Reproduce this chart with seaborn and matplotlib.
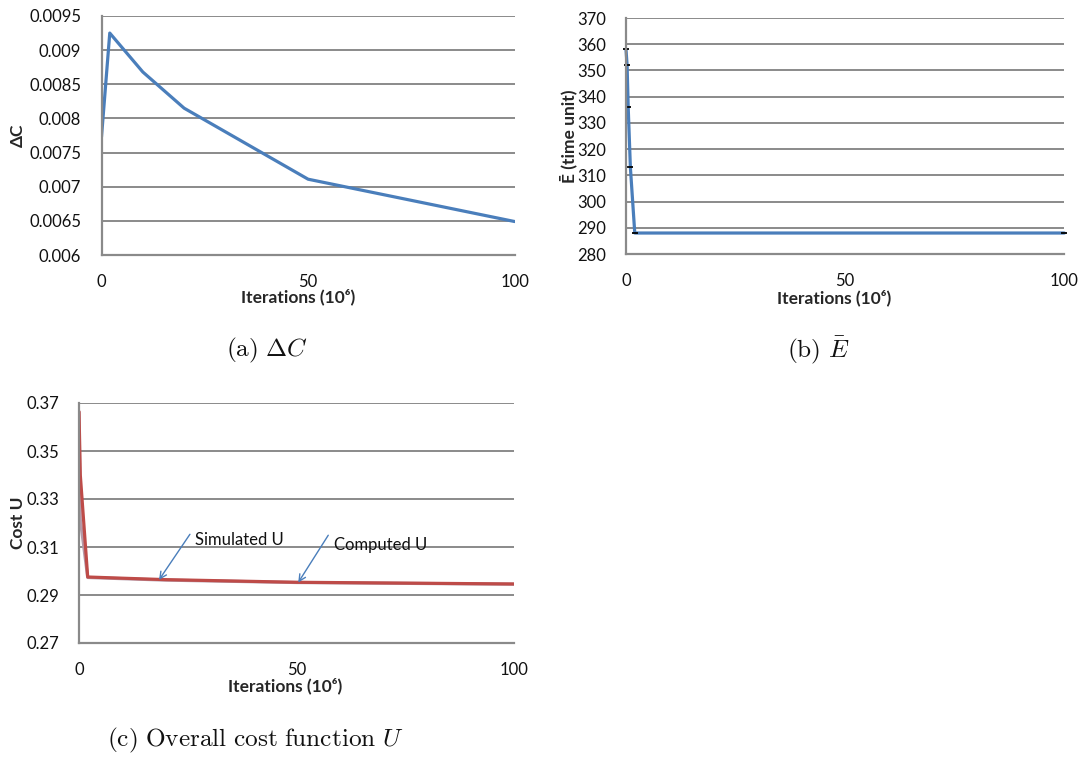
import matplotlib
matplotlib.use("Agg")
import matplotlib.pyplot as plt
import seaborn as sns
import pandas as pd

# ---- data -------------------------------------------------------------
iter_dc = [0, 2, 10, 20, 50, 100]
delta_c = [0.00773, 0.00925, 0.00868, 0.00815, 0.00711, 0.00649]

iter_e = [0, 0.25, 0.5, 1, 2, 100]
e_bar = [358, 352, 336, 313, 288, 288]

iter_u = [0, 0.3, 2, 10, 20, 50, 100]
simulated_u = [0.3662, 0.3215, 0.2973, 0.2968, 0.2962, 0.2952, 0.2945]
computed_u = [0.3664, 0.3400, 0.2975, 0.2970, 0.2964, 0.2953, 0.2946]

x_ticks = [0, 50, 100]
x_tick_labels = ["0", "50", "100"]
dc_ticks = [0.006, 0.0065, 0.007, 0.0075, 0.008, 0.0085, 0.009, 0.0095]
dc_tick_labels = ["0.006", "0.0065", "0.007", "0.0075", "0.008", "0.0085", "0.009", "0.0095"]
e_ticks = [280, 290, 300, 310, 320, 330, 340, 350, 360, 370]
u_ticks = [0.27, 0.29, 0.31, 0.33, 0.35, 0.37]
u_tick_labels = ["0.27", "0.29", "0.31", "0.33", "0.35", "0.37"]

# ---- style ------------------------------------------------------------
sns.set_style("white")
plt.rcParams["font.family"] = ["Lato", "DejaVu Sans"]

GRID = "#8a8a8a"
BLUE = "#4a7ebb"
RED = "#be4b48"
TICK_FS = 12
LABEL_FS = 12.5

fig = plt.figure(figsize=(10.84, 7.59), dpi=100)
W, H = 1084, 759


def add_axes(left, right, top, bottom):
    return fig.add_axes([left / W, 1 - bottom / H, (right - left) / W, (bottom - top) / H])


def style_axes(ax, yticks, ylabels, ylim, xlabel, ylabel, ylab_x, xlab_y):
    ax.set_xlim(0, 100)
    ax.set_ylim(*ylim)
    ax.set_xticks(x_ticks)
    ax.set_xticklabels(x_tick_labels)
    ax.set_yticks(yticks)
    ax.set_yticklabels(ylabels)
    ax.grid(axis="y", color=GRID, linewidth=1.4)
    ax.grid(axis="x", visible=False)
    ax.set_axisbelow(True)
    for s in ["top", "right"]:
        ax.spines[s].set_visible(False)
    for s in ["left", "bottom"]:
        ax.spines[s].set_color(GRID)
        ax.spines[s].set_linewidth(1.6)
    ax.tick_params(axis="x", direction="out", length=4.5, width=1.4, color=GRID,
                   pad=9.5, labelsize=TICK_FS, labelcolor="#111111")
    ax.tick_params(axis="y", direction="out", length=4.5, width=1.4, color=GRID,
                   pad=10, labelsize=TICK_FS, labelcolor="#111111")
    ax.set_xlabel(xlabel, fontsize=LABEL_FS, fontweight="bold")
    ax.set_ylabel(ylabel, fontsize=LABEL_FS, fontweight="bold")
    ax.xaxis.set_label_coords(0.475, xlab_y)
    ax.xaxis.label.set_va("center")
    ax.yaxis.set_label_coords(ylab_x, 0.5)
    ax.yaxis.label.set_va("center")


xlabel_txt = "Iterations (10\u2076)"

# ---- (a) delta C ------------------------------------------------------
ax_a = add_axes(101.5, 514.7, 16, 255)
sns.lineplot(x=iter_dc, y=delta_c, ax=ax_a, color=BLUE, linewidth=2.3, sort=False)
style_axes(ax_a, dc_ticks, dc_tick_labels, (0.006, 0.0095), xlabel_txt, "\u0394C",
           -0.202, -0.176)

# ---- (b) mean E -------------------------------------------------------
ax_b = add_axes(626, 1064.3, 18, 254)
sns.lineplot(x=iter_e, y=e_bar, ax=ax_b, color=BLUE, linewidth=2.3, sort=False,
             marker="_", markersize=5, markeredgecolor="black",
             markeredgewidth=1.3, clip_on=False)
style_axes(ax_b, e_ticks, [str(v) for v in e_ticks], (280, 370), xlabel_txt,
           "\u0112 (time unit)", -0.132, -0.186)

# ---- (c) cost U -------------------------------------------------------
ax_c = add_axes(79, 514, 403, 643)
df_u = pd.DataFrame({
    "iter": iter_u * 2,
    "cost": simulated_u + computed_u,
    "series": ["Simulated U"] * len(iter_u) + ["Computed U"] * len(iter_u),
})
sns.lineplot(data=df_u, x="iter", y="cost", hue="series", ax=ax_c,
             palette={"Simulated U": "#b59aa8", "Computed U": RED},
             linewidth=2.3, sort=False, legend=False)
style_axes(ax_c, u_ticks, u_tick_labels, (0.27, 0.37), xlabel_txt, "Cost U",
           -0.140, -0.179)

arrow = dict(arrowstyle="->", color=BLUE, lw=1.0, shrinkA=0, shrinkB=0,
             mutation_scale=12)
ax_c.annotate("", xy=(18.4, 0.2963), xytext=(25.5, 0.3153), arrowprops=arrow)
ax_c.annotate("", xy=(50.4, 0.2952), xytext=(57.3, 0.3149), arrowprops=arrow)
ax_c.text(26.7, 0.3129, "Simulated U", fontsize=TICK_FS, va="center", ha="left",
          color="#111111")
ax_c.text(58.6, 0.3108, "Computed U", fontsize=TICK_FS, va="center", ha="left",
          color="#111111")

# ---- sub-figure captions ---------------------------------------------
cap_kw = dict(fontsize=18.2, math_fontfamily="cm", va="center", color="#111111")
fig.text(267 / W, 1 - 350 / H, r"$\mathrm{(a)}\ \Delta C$", ha="center", **cap_kw)
fig.text(818 / W, 1 - 350 / H, r"$\mathrm{(b)}\ \bar{E}$", ha="center", **cap_kw)
fig.text(107 / W, 1 - 740 / H, r"$\mathrm{(c)\ Overall\ cost\ function}\ U$",
         ha="left", **cap_kw)

fig.savefig("out.png", dpi=100, facecolor="white")
